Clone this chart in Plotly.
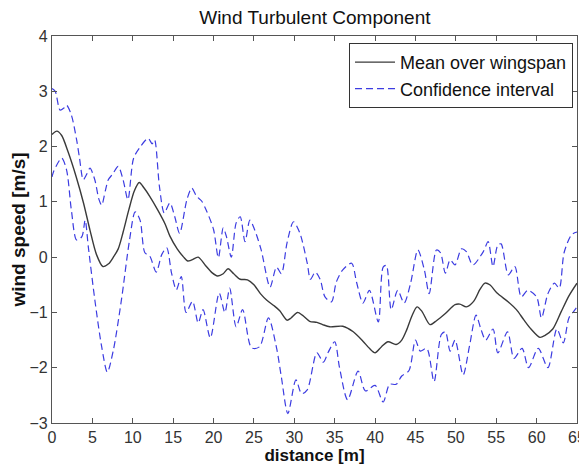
import plotly.graph_objects as go

# Mean over wingspan
mean_x = [0, 0.6, 1.2, 2, 3, 3.9, 4.7, 5.5, 6.3, 7, 7.6, 8.2, 8.8, 9.5, 10.2, 10.8, 11.4, 12.1, 13.1, 14,
          14.6, 15.5, 16.3, 16.8, 17.3, 18.1, 19, 19.8, 20.5, 21.2, 21.8, 22.5, 23.3, 24.2, 25, 25.8, 26.6,
          27.5, 28.2, 29.1, 29.6, 30.4, 31, 31.9, 32.8, 33.5, 34.4, 36, 37.3, 38.5, 39.3, 40, 40.8, 41.6,
          42.6, 43.3, 43.9, 44.6, 45.2, 45.8, 46.8, 47.6, 48.7, 49.9, 50.5, 51.3, 52.2, 53, 53.6, 54.2,
          55.1, 56.5, 57.5, 58.4, 59.3, 60.4, 61, 62, 63, 64, 65]
mean_y = [2.22, 2.28, 2.2, 1.9, 1.45, 0.98, 0.49, 0.05, -0.17, -0.12, 0.0, 0.15, 0.45, 0.85, 1.2, 1.35, 1.25,
          1.1, 0.85, 0.6, 0.38, 0.15, 0.0, -0.07, -0.05, 0.0, -0.15, -0.28, -0.34, -0.3, -0.21, -0.3, -0.4,
          -0.41, -0.5, -0.66, -0.78, -0.88, -0.97, -1.14, -1.1, -1.0, -1.05, -1.16, -1.18, -1.22, -1.26,
          -1.25, -1.35, -1.52, -1.65, -1.73, -1.62, -1.53, -1.58, -1.5, -1.32, -1.05, -0.9, -0.98, -1.22,
          -1.15, -1.02, -0.86, -0.85, -0.9, -0.8, -0.58, -0.47, -0.5, -0.65, -0.81, -0.95, -1.13, -1.3,
          -1.45, -1.42, -1.3, -1.0, -0.7, -0.47]

# Upper confidence bound
upper_x = [0, 0.4, 1.0, 1.5, 1.8, 2.4, 3.05, 3.4, 3.87, 4.3, 4.7, 5.3, 5.8, 6.15, 6.6, 6.97, 7.5, 8.2, 8.8,
           9.4, 10.1, 10.9, 11.9, 12.4, 12.7, 13.3, 13.9, 14.6, 15.2, 15.8, 16.7, 17.3, 17.9, 18.5, 19.1,
           20.0, 20.6, 21.2, 21.6, 22.2, 22.8, 23.3, 23.9, 24.5, 25.1, 25.9, 27.0, 27.8, 28.4, 29.1, 29.9,
           30.7, 31.6, 32.0, 32.6, 33.2, 33.8, 34.6, 35.2, 36.0, 37.1, 37.7, 38.5, 39.3, 40.4, 41.0, 41.4,
           42.0, 42.8, 43.6, 44.4, 45.3, 46.1, 46.7, 47.6, 48.1, 48.7, 49.3, 49.9, 50.7, 51.3, 52.1, 53.4,
           54.0, 54.6, 55.2, 55.6, 56.5, 57.3, 58.1, 58.9, 60.0, 60.6, 61.4, 62.2, 62.8, 63.4, 64.3, 64.9, 65]
upper_y = [3.05, 3.0, 2.66, 2.7, 2.75, 2.57, 2.12, 1.8, 1.4, 1.5, 1.61, 1.4, 1.05, 0.94, 1.2, 1.4, 1.5, 1.64,
           1.4, 1.04, 1.79, 1.99, 2.15, 2.05, 2.12, 1.28, 0.8, 0.98, 0.73, 0.43, 1.04, 1.25, 1.1, 1.02, 0.85,
           0.5, -0.01, 0.53, 0.37, 0.0, 0.62, 0.73, 0.28, 0.67, 0.49, 0.13, -0.54, -0.18, -0.3, 0.26, 0.64,
           0.43, -0.11, -0.4, -0.27, -0.4, -0.72, -0.81, -0.45, -0.23, -0.11, -0.45, -0.83, -0.6, -1.17,
           -0.18, -0.15, -0.95, -0.6, -0.83, -0.47, 0.13, -0.23, -0.66, 0.13, 0.08, -0.29, -0.05, -0.14, 0.15,
           0.1, -0.14, 0.1, 0.28, -0.17, 0.22, 0.24, -0.32, -0.17, -0.72, -0.6, -0.72, -1.1, -0.66, -0.47,
           -0.56, 0.08, 0.4, 0.45, 0.45]

# Lower confidence bound
lower_x = [0, 0.2, 1.2, 1.8, 2.4, 3.05, 3.7, 4.1, 4.5, 5.3, 6.15, 6.85, 7.6, 8.6, 9.6, 10.3, 10.9, 11.5, 12.1,
           12.9, 13.6, 14.2, 14.8, 15.4, 16.0, 16.6, 17.4, 18.1, 18.7, 19.6, 20.7, 21.4, 22.0, 22.8, 23.6,
           24.7, 25.7, 26.8, 27.8, 28.4, 29.2, 30.2, 30.9, 31.6, 32.8, 33.6, 34.2, 35.0, 35.6, 36.6, 37.9,
           38.8, 40.0, 41.0, 41.8, 42.6, 43.3, 44.2, 45.0, 45.6, 46.4, 47.3, 48.2, 48.7, 49.3, 49.9, 50.9,
           51.7, 52.5, 53.1, 53.7, 54.6, 55.2, 56.4, 57.2, 58.2, 59.0, 60.2, 61.4, 62.5, 63.3, 64.0, 64.6, 65]
lower_y = [1.45, 1.55, 1.79, 1.58, 0.85, 0.31, 0.37, 0.67, 0.18, -0.77, -1.62, -2.08, -1.68, -0.77, 0.31, 0.82,
           0.67, 0.08, 0.02, -0.27, 0.05, 0.17, -0.29, -0.59, -0.35, -1.0, -0.8, -1.19, -0.95, -1.46, -0.65,
           -1.0, -0.56, -1.26, -0.95, -1.64, -1.62, -1.1, -1.64, -2.17, -2.83, -2.22, -2.47, -2.4, -1.73,
           -1.9, -1.72, -1.53, -2.0, -2.58, -2.06, -2.42, -2.32, -2.62, -2.3, -2.3, -2.15, -2.05, -1.5, -1.7,
           -1.65, -2.25, -1.4, -1.35, -1.7, -1.5, -2.13, -1.6, -1.05, -1.3, -1.5, -1.3, -1.73, -1.35, -1.83,
           -1.65, -2.0, -1.65, -2.0, -1.3, -1.55, -1.1, -0.98, -0.9]

x_ticks = list(range(0, 70, 5))
y_ticks = list(range(-3, 5))

FONT = "Liberation Sans, Arial, sans-serif"
BLUE = "rgb(60,60,225)"

fig = go.Figure()
fig.add_trace(go.Scatter(x=mean_x, y=mean_y, mode="lines", name="Mean over wingspan",
                         line=dict(color="#3a3a3a", width=1.4, shape="spline", smoothing=0.8)))
fig.add_trace(go.Scatter(x=upper_x, y=upper_y, mode="lines", name="Confidence interval",
                         legendgroup="ci",
                         line=dict(color=BLUE, width=1.2, dash="7px,4px", shape="spline", smoothing=0.8)))
fig.add_trace(go.Scatter(x=lower_x, y=lower_y, mode="lines", name="Confidence interval",
                         legendgroup="ci", showlegend=False,
                         line=dict(color=BLUE, width=1.2, dash="7px,4px", shape="spline", smoothing=0.8)))

axis_common = dict(showgrid=False, zeroline=False, showline=True, linecolor="#555555", linewidth=1.3,
                   mirror="ticks", ticks="inside", ticklen=5, tickcolor="#555555", automargin=False,
                   tickfont=dict(family=FONT, size=16, color="#333333"))

# The page body adds an 8px offset, so the figure is sized and margined to compensate.
fig.update_layout(
    width=579, height=460,
    margin=dict(l=44, r=10, t=28, b=45),
    paper_bgcolor="white", plot_bgcolor="white",
    font=dict(family=FONT, color="#111111"),
    title=dict(text="Wind Turbulent Component", x=0.530, xanchor="center", y=0.98, yanchor="middle",
               font=dict(family=FONT, size=19, color="#111111")),
    xaxis=dict(range=[0, 65], tickvals=x_ticks,
               title=dict(text="<b>distance [m]</b>", font=dict(family=FONT, size=17), standoff=0),
               **axis_common),
    yaxis=dict(range=[-3, 4], tickvals=y_ticks,
               title=dict(text="<b>wind speed [m/s]</b>", font=dict(family=FONT, size=19), standoff=4),
               **axis_common),
    legend=dict(x=0.9924, y=0.982, xanchor="right", yanchor="top", bgcolor="white",
                bordercolor="#333333", borderwidth=1, font=dict(family=FONT, size=18, color="#111111"),
                tracegroupgap=0, itemwidth=40),
    showlegend=True,
)

fig.write_html("out.html")
